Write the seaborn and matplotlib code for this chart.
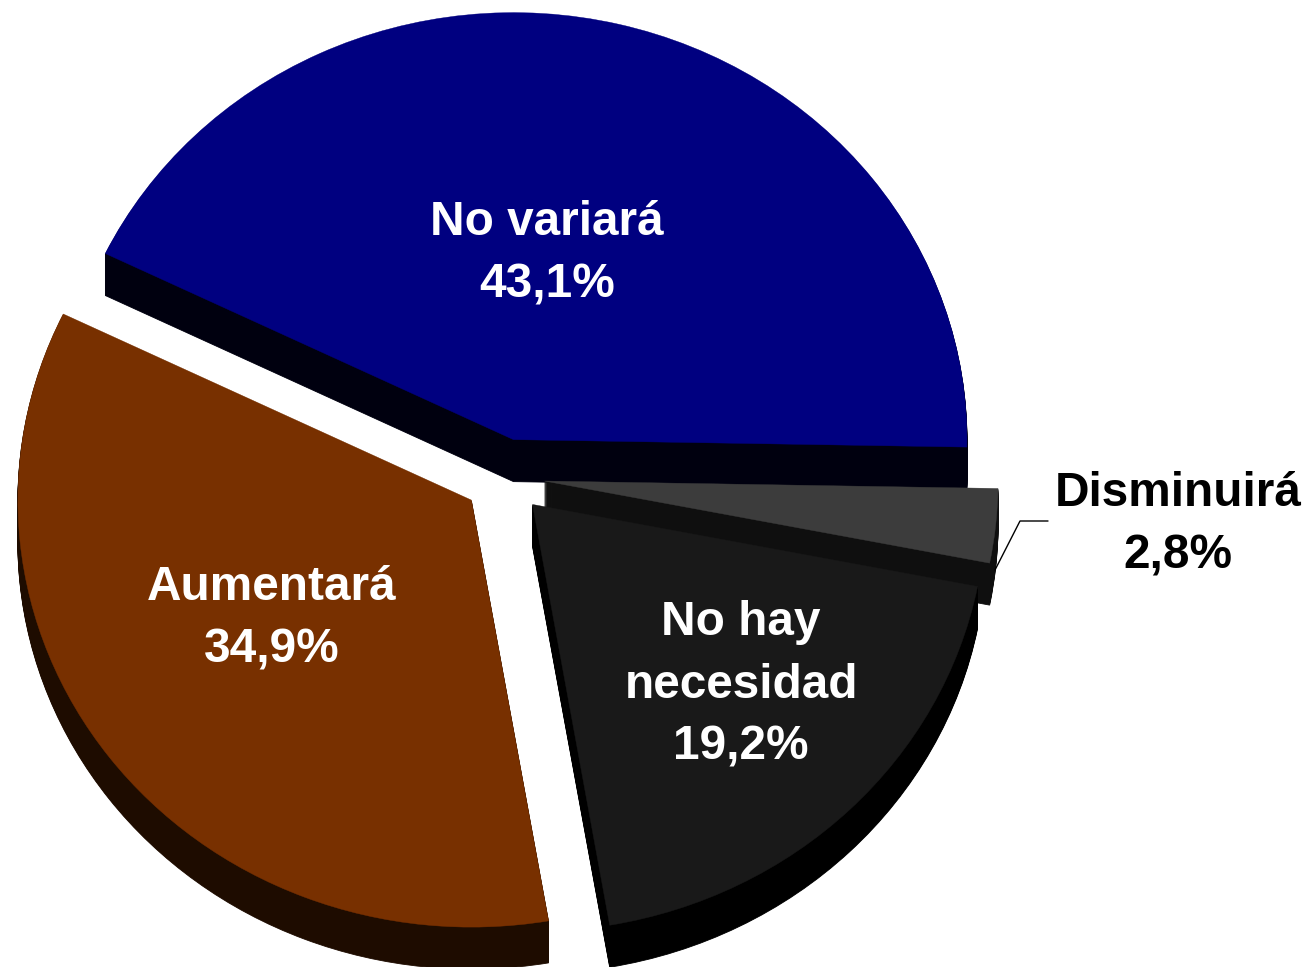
import matplotlib
matplotlib.use("Agg")
import matplotlib.pyplot as plt
import seaborn as sns

categories = ["No variará", "Aumentará", "No hay\nnecesidad", "Disminuirá"]
values = [43.1, 34.9, 19.2, 2.8]
top_colors = ["#000080", "#783000", "#191919", "#3C3C3C"]
side_colors = ["#00000F", "#1E0C00", "#000000", "#0F0F0F"]
draw_order = [0, 3, 2, 1]

W, H = 1307, 967
CX, CY = 504.0, 477.0   # pie centre, px
RX, RY = 453.5, 427.0   # radii, px
DEPTH = 42
EXPLODE = 0.09
START = -1.0

sns.set_theme(style="white")
plt.rcParams["font.family"] = ["Liberation Sans", "DejaVu Sans"]

fig = plt.figure(figsize=(W / 100, H / 100), dpi=100, facecolor="white")
ax = fig.add_axes([0, 0, 1, 1])


def one_wedge(i, center, color, edge=None, lw=0):
    wedges, _ = ax.pie(values, explode=[EXPLODE] * len(values), startangle=START,
                       counterclock=True, center=center, radius=1.0, normalize=True)
    for j, w in enumerate(wedges):
        if j == i:
            w.set_facecolor(color)
            w.set_edgecolor(edge if edge else color)
            w.set_linewidth(lw)
        else:
            w.set_visible(False)


for i in draw_order:
    for d in range(DEPTH, 0, -1):
        one_wedge(i, (0, -d / RY), side_colors[i], side_colors[i], 0.6)
    one_wedge(i, (0, 0), top_colors[i], top_colors[i], 0.3)

ax.set_aspect("auto")
ax.set_xlim(-CX / RX, (W - CX) / RX)
ax.set_ylim(-(H - CY) / RY, CY / RY)
ax.axis("off")


def px(x, y):
    return (x - CX) / RX, (CY - y) / RY


label_pos = [(547, 254), (272, 619), (741, 685), (1178, 524.5)]
label_colors = ["white", "white", "white", "black"]
for name, v, pos, col in zip(categories, values, label_pos, label_colors):
    txt = f"{name}\n{v:.1f}%".replace(".", ",")
    ax.text(*px(*pos), txt, ha="center", va="center", color=col, fontsize=34.4,
            fontweight="bold", linespacing=1.49)

xs, ys = zip(px(1048, 521), px(1020, 521), px(995, 570))
ax.plot(xs, ys, color="black", lw=1)

fig.savefig("out.png", dpi=100, facecolor="white")
